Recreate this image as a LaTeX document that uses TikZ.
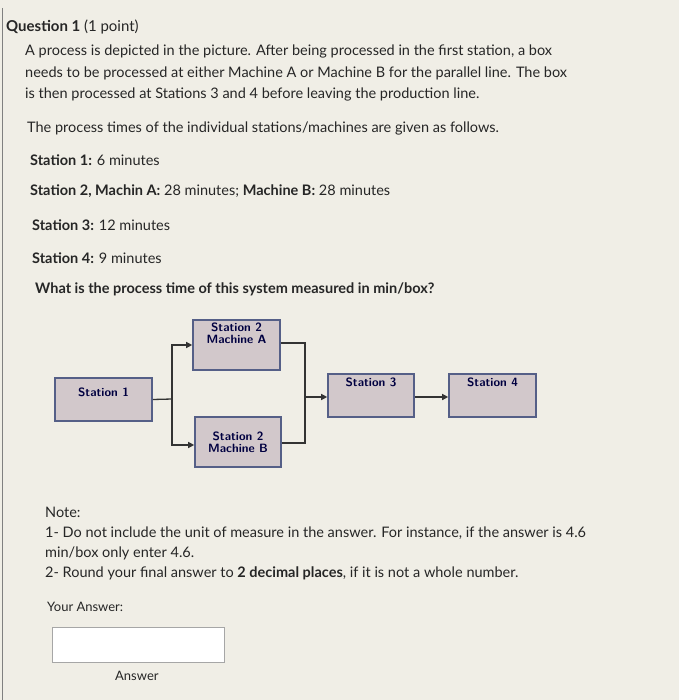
\documentclass[tikz,border=0pt]{standalone}
\usepackage{fontspec}
\setmainfont{Lato}
\usetikzlibrary{arrows.meta}
\definecolor{bfill}{RGB}{210,200,203}
\definecolor{bdraw}{RGB}{85,95,135}
\definecolor{bg}{RGB}{240,238,230}
\begin{document}
\begin{tikzpicture}[x=1pt,y=-1pt,
  txt/.style={anchor=west,inner sep=0pt,font=\fontsize{14.5}{17}\selectfont,text=black!85},
  box/.style={draw=bdraw,line width=1.6pt,fill=bfill,minimum width=#1,font=\sffamily\bfseries\fontsize{12}{12}\selectfont,align=center,text=black!75!blue,inner sep=0pt},
  ln/.style={line width=1.3pt,draw=black!80},
  arr/.style={ln,-{Triangle[length=6pt,width=6pt]}}]
\fill[bg] (0,0) rectangle (679,700);
\useasboundingbox (0,0) rectangle (679,700);
\draw[black!50,line width=1pt] (2,8) -- (2,700);
\node[txt,font=\fontsize{15}{17}\selectfont\bfseries] (q) at (6,27) {Question 1 \mdseries(1 point)};
\node[txt,align=left,anchor=north west,font=\fontsize{14.5}{21.5}\selectfont] (p) at (25,45) {A process is depicted in the picture. After being processed in the first station, a box\\needs to be processed at either Machine A or Machine B for the parallel line. The box\\is then processed at Stations 3 and 4 before leaving the production line.};
\node[txt] (t1) at (27,128) {The process times of the individual stations/machines are given as follows.};
\node[txt] (s1) at (30,160) {\textbf{Station 1:} 6 minutes};
\node[txt] (s2) at (30,191) {\textbf{Station 2, Machin A:} 28 minutes; \textbf{Machine B:} 28 minutes};
\node[txt] (s3) at (32,225) {\textbf{Station 3:} 12 minutes};
\node[txt] (s4) at (32,258) {\textbf{Station 4:} 9 minutes};
\node[txt] (w) at (35,289) {\textbf{What is the process time of this system measured in min/box?}};

\node[box=97pt,minimum height=43pt] (n1) at (103.5,399.5) {Station 1\\[2pt]};
\node[box=87pt,minimum height=50pt] (na) at (236.5,345) {Station 2\\Machine A\\[12pt]};
\node[box=86pt,minimum height=50pt] (nb) at (238,442) {Station 2\\Machine B};
\node[box=86pt,minimum height=43pt] (n3) at (371,395.5) {Station 3\\[14pt]};
\node[box=87pt,minimum height=43pt] (n4) at (492.5,395.5) {Station 4\\[14pt]};
\coordinate (b) at (172,399);
\coordinate (m) at (305,397);
\draw[ln] (n1.east) -- (b);
\draw[arr] (b) |- (na.west |- 0,345);
\draw[arr] (b) |- (nb.west |- 0,445);
\draw[ln] (na.east |- 0,343) -| (m);
\draw[ln] (nb.east |- 0,443) -| (m);
\draw[arr] (m) -- (n3.west |- m);
\draw[arr] (n3.east |- 0,397) -- (n4.west |- 0,397);

\node[txt] (nt) at (45,512) {Note:};
\node[txt,align=left,anchor=north west,font=\fontsize{14.5}{20}\selectfont] (n1t) at (45,527) {1- Do not include the unit of measure in the answer. For instance, if the answer is 4.6\\min/box only enter 4.6.};
\node[txt] (n2t) at (45,573) {2- Round your final answer to \textbf{2 decimal places}, if it is not a whole number.};
\node[txt,font=\fontsize{13}{15}\selectfont] (ya) at (47,607) {Your Answer:};
\node[draw=black!35,line width=1pt,fill=white,minimum width=172pt,minimum height=35pt,inner sep=0pt] (ab) at (138,644.5) {};
\node[txt,font=\fontsize{13}{15}\selectfont] (ans) at (115,676) {Answer};
\end{tikzpicture}
\end{document}
